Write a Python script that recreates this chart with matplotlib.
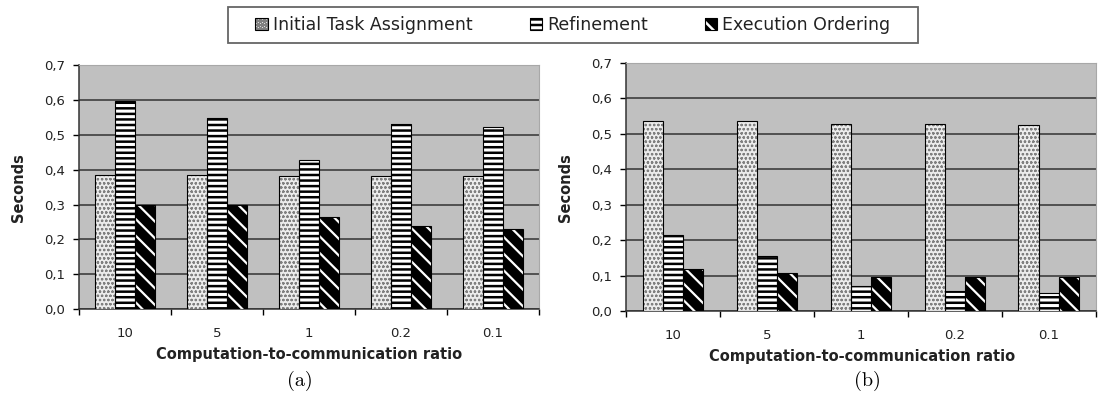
import matplotlib
matplotlib.use("Agg")
import matplotlib.pyplot as plt
from matplotlib.patches import Patch, Rectangle
from matplotlib.legend_handler import HandlerTuple
import numpy as np

plt.rcParams['font.family'] = ['DejaVu Sans']
plt.rcParams['hatch.linewidth'] = 1.8

ratios = ['10', '5', '1', '0.2', '0.1']
series = ['Initial Task Assignment', 'Refinement', 'Execution Ordering']

# panel (a)
a_initial = [0.384, 0.385, 0.381, 0.381, 0.381]
a_refine = [0.597, 0.547, 0.427, 0.531, 0.521]
a_order = [0.298, 0.299, 0.265, 0.239, 0.231]

# panel (b)
b_initial = [0.536, 0.536, 0.528, 0.527, 0.526]
b_refine = [0.214, 0.155, 0.070, 0.057, 0.052]
b_order = [0.118, 0.108, 0.097, 0.097, 0.097]

yticks = [0.0, 0.1, 0.2, 0.3, 0.4, 0.5, 0.6, 0.7]

BG = '#c0c0c0'
TXT = '#222222'

# (face, hatch, hatch colour, hatch width) per series
styles = [('#ececec', 'oooo', '#808080', 0.6),
          ('white', '---', 'black', 1.8),
          ('black', '\\\\', 'white', 1.6)]


def hatched_bars(ax, x, h, w, face, hatch, hcolor, hlw):
    with plt.rc_context({'hatch.linewidth': hlw}):
        bars = ax.bar(x, h, w, color=face, edgecolor=hcolor, hatch=hatch,
                      linewidth=0, zorder=3)
    for b in bars:
        if hasattr(b, 'set_hatch_linewidth'):
            b.set_hatch_linewidth(hlw)
    # outline
    ax.bar(x, h, w, fill=False, edgecolor='black', linewidth=0.8, zorder=4)


def draw_panel(ax, initial, refine, order):
    x = np.arange(len(ratios))
    w = 0.215
    ax.set_facecolor(BG)
    for off, vals, st in zip([-w, 0, w], [initial, refine, order], styles):
        hatched_bars(ax, x + off, vals, w, *st)

    ax.set_xlim(-0.5, len(ratios) - 0.5)
    ax.set_ylim(0, 0.7)
    ax.set_yticks(yticks)
    ax.set_yticklabels([f'{v:.1f}'.replace('.', ',') for v in yticks],
                       fontsize=9.5, color=TXT)
    ax.yaxis.grid(True, color='#333333', linewidth=1.1, zorder=1)
    ax.set_axisbelow(True)

    ax.set_xticks(x)
    ax.set_xticklabels(ratios, fontsize=9.5, color=TXT)
    ax.tick_params(axis='x', which='major', length=0, pad=13)
    ax.set_xticks(np.arange(len(ratios) + 1) - 0.5, minor=True)
    ax.tick_params(axis='x', which='minor', length=4, width=1, direction='out')
    ax.tick_params(axis='y', length=4, width=1, direction='out', pad=6)

    for s in ['top', 'right']:
        ax.spines[s].set_color('#a8a8a8')
        ax.spines[s].set_linewidth(0.8)
    for s in ['left', 'bottom']:
        ax.spines[s].set_color('#333333')
        ax.spines[s].set_linewidth(1.1)

    ax.set_ylabel('Seconds', fontsize=10.5, fontweight='bold', labelpad=13,
                  color=TXT)


fig = plt.figure(figsize=(10.98, 4.01), dpi=100)
ax1 = fig.add_axes([0.072, 0.229, 0.419, 0.609])
ax2 = fig.add_axes([0.570, 0.224, 0.428, 0.619])

draw_panel(ax1, a_initial, a_refine, a_order)
draw_panel(ax2, b_initial, b_refine, b_order)

fig.text(309 / 1098, 1 - 354 / 401, 'Computation-to-communication ratio',
         ha='center', va='center', fontsize=10.5, fontweight='bold', color=TXT)
fig.text(862 / 1098, 1 - 357 / 401, 'Computation-to-communication ratio',
         ha='center', va='center', fontsize=10.5, fontweight='bold', color=TXT)
fig.text(300 / 1098, 1 - 381 / 401, '(a)', ha='center', va='center',
         fontsize=14.5, family=['cmr10', 'DejaVu Serif'])
fig.text(867 / 1098, 1 - 381 / 401, '(b)', ha='center', va='center',
         fontsize=14.5, family=['cmr10', 'DejaVu Serif'])

# legend frame drawn separately so the side padding can be wider
fig.patches.append(Rectangle((228 / 1098, 1 - 43 / 401), 690 / 1098, 36 / 401,
                             transform=fig.transFigure, facecolor='white',
                             edgecolor='#666666', linewidth=1.3, zorder=0))

handles = []
for face, hatch, hcol, hlw in styles:
    inner = Patch(facecolor=face, edgecolor=hcol, hatch=hatch, linewidth=0)
    outer = Patch(fill=False, edgecolor='black', linewidth=0.8)
    handles.append((inner, outer))

leg = fig.legend(handles, series, loc='center', ncol=3,
                 bbox_to_anchor=(573 / 1098, 1 - 25 / 401),
                 fontsize=12.5, frameon=False,
                 handler_map={tuple: HandlerTuple(ndivide=1, pad=0)},
                 handlelength=0.7, handleheight=0.7, handletextpad=0.3,
                 columnspacing=3.3, borderpad=0.2)
for t in leg.get_texts():
    t.set_color(TXT)

fig.savefig('out.png', dpi=100)
